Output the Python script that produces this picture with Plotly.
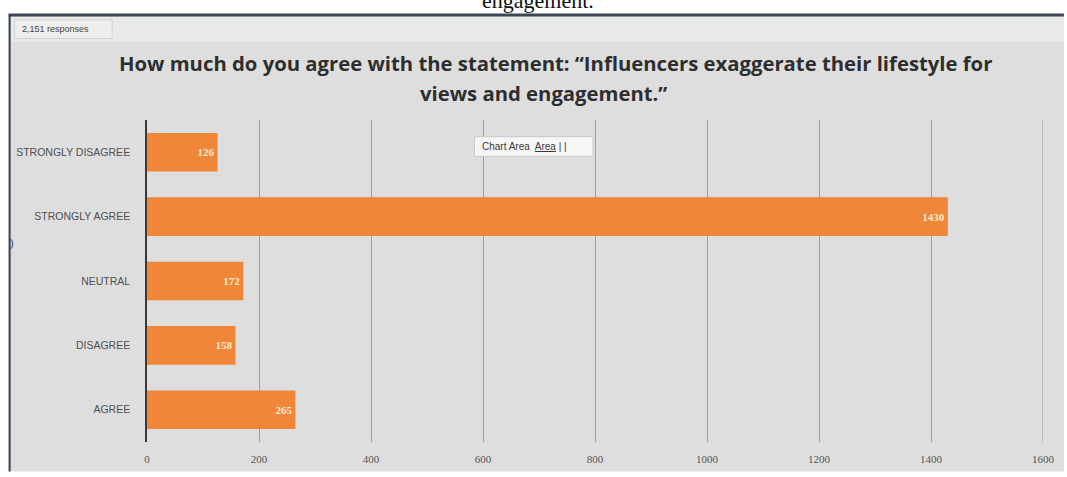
import plotly.graph_objects as go

# Survey responses, listed top to bottom as shown on the chart
categories = ["STRONGLY DISAGREE", "STRONGLY AGREE", "NEUTRAL", "DISAGREE", "AGREE"]
responses = [126, 1430, 172, 158, 265]
x_ticks = [0, 200, 400, 600, 800, 1000, 1200, 1400, 1600]

title_line1 = "How much do you agree with the statement: \u201cInfluencers exaggerate their lifestyle for"
title_line2 = "views and engagement.\u201d"

BAR = "#ef8638"
PANEL = "#dedede"
GRID = "#9c9c9c"

# pixel -> paper helpers (plot area spans 147..1047 px horizontally, 120..448 px vertically)
L, R, T, B = 147, 1047, 120, 448
def px(x):
    return (x - L) / (R - L)
def py(y):
    return (B - y) / (B - T)

fig = go.Figure()
fig.add_trace(go.Bar(
    y=categories,
    x=responses,
    orientation="h",
    marker=dict(color=BAR, line=dict(width=0)),
    text=[str(v) for v in responses],
    textposition="inside",
    insidetextanchor="end",
    textangle=0,
    textfont=dict(family="Liberation Serif", size=11, color="#fdebd3", weight="bold"),
    constraintext="none",
    width=0.6,
    hoverinfo="skip",
))

shapes = [
    # screenshot panel
    dict(type="rect", xref="paper", yref="paper", x0=px(8), x1=px(1068), y0=py(478), y1=py(12),
         fillcolor=PANEL, line=dict(width=0), layer="below"),
    # light band near the top of the panel
    dict(type="rect", xref="paper", yref="paper", x0=px(10), x1=px(1068), y0=py(40), y1=py(15),
         fillcolor="#e8eae8", line=dict(width=0), layer="below"),
    # window frame edges
    dict(type="line", xref="paper", yref="paper", x0=px(8), x1=px(1068), y0=py(13), y1=py(13),
         line=dict(color="#3a4556", width=3), layer="below"),
    dict(type="line", xref="paper", yref="paper", x0=px(9), x1=px(9), y0=py(13), y1=py(478),
         line=dict(color="#34425a", width=2), layer="below"),
    # "responses" tag box
    dict(type="rect", xref="paper", yref="paper", x0=px(14), x1=px(112), y0=py(37), y1=py(18),
         fillcolor="#eeeeec", line=dict(color="#d2d2d2", width=1), layer="below"),
    # last gridline at the right end of the axis
    dict(type="line", xref="x", yref="paper", x0=x_ticks[-1], x1=x_ticks[-1], y0=0, y1=1,
         line=dict(color=GRID, width=1), layer="below"),
    # tooltip box
    dict(type="rect", xref="paper", yref="paper", x0=px(476), x1=px(595), y0=py(157), y1=py(137),
         fillcolor="#f6f6f6", line=dict(color="#c9c9c9", width=1), layer="above"),
]

annotations = [
    dict(text="engagement.", xref="paper", yref="paper", x=px(540), y=py(13),
         xanchor="center", yanchor="bottom", showarrow=False,
         font=dict(family="Liberation Serif", size=22, color="#111111")),
    dict(text="2,151 responses", xref="paper", yref="paper", x=px(19), y=py(27.5),
         xanchor="left", yanchor="middle", showarrow=False,
         font=dict(family="Liberation Sans", size=9, color="#444444")),
    dict(text=title_line1, xref="paper", yref="paper", x=px(557), y=py(62),
         xanchor="center", yanchor="middle", showarrow=False,
         font=dict(family="Open Sans", size=20.3, color="#2e2e2e", weight="bold")),
    dict(text=title_line2, xref="paper", yref="paper", x=px(545), y=py(93),
         xanchor="center", yanchor="middle", showarrow=False,
         font=dict(family="Open Sans", size=20.3, color="#2e2e2e", weight="bold")),
    dict(text="Chart Area  <u>Area</u> | |", xref="paper", yref="paper", x=px(481), y=py(147),
         xanchor="left", yanchor="middle", showarrow=False,
         font=dict(family="Liberation Sans", size=10, color="#3a3a3a")),
    dict(text=")", xref="paper", yref="paper", x=px(7), y=py(245),
         xanchor="left", yanchor="middle", showarrow=False,
         font=dict(family="Liberation Sans", size=11, color="#34425a")),
]

fig.update_layout(
    width=1067, height=477,
    margin=dict(l=L, r=1067 - R, t=T, b=477 - B, pad=0),
    paper_bgcolor="white",
    plot_bgcolor="rgba(0,0,0,0)",
    bargap=0.42,
    showlegend=False,
    shapes=shapes,
    annotations=annotations,
    xaxis=dict(
        range=[0, 1600], tickvals=x_ticks, ticktext=[str(t) for t in x_ticks],
        showgrid=True, gridcolor=GRID, gridwidth=1,
        zeroline=False, showline=False,
        ticks="outside", ticklen=7, tickcolor="rgba(0,0,0,0)",
        tickfont=dict(family="Liberation Serif", size=11, color="#555555"),
        fixedrange=True,
    ),
    yaxis=dict(
        categoryorder="array", categoryarray=categories[::-1],
        showgrid=False, zeroline=False,
        showline=True, linecolor="#3a3a3a", linewidth=1.5,
        ticks="outside", ticklen=13, tickcolor="rgba(0,0,0,0)",
        tickfont=dict(family="Liberation Sans", size=10.5, color="#505050"),
        fixedrange=True,
    ),
)

fig.write_html("out.html")
